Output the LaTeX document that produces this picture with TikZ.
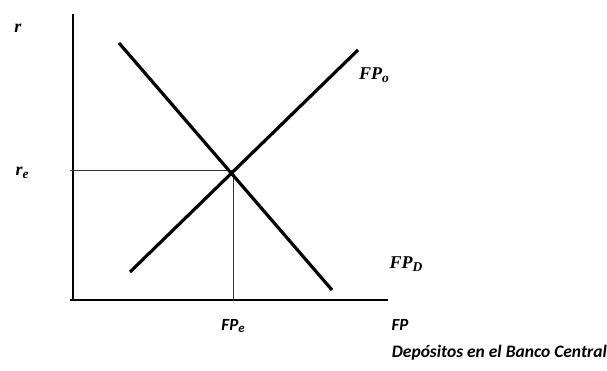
\documentclass[tikz,border=0pt]{standalone}
\usepackage{fontspec}
\setmainfont{Liberation Serif}
\newfontfamily\calib{Carlito}
\newcommand{\lsub}[1]{\raisebox{-0.35ex}{\fontsize{0.75\fsz}{1\fsz}\selectfont #1}}
\newlength{\fsz}
\begin{document}
\begin{tikzpicture}[x=1pt,y=-1pt,
  axis/.style={line width=1.3pt,black},
  guide/.style={line width=0.9pt,black!80},
  curve/.style={line width=3.2pt,black},
  serlab/.style={font=\setlength{\fsz}{18pt}\fontsize{18}{20}\selectfont\bfseries\itshape,inner sep=0pt},
  callab/.style={font=\calib\setlength{\fsz}{17pt}\fontsize{17}{19}\selectfont\bfseries\itshape,inner sep=0pt}]
\useasboundingbox (0,0) rectangle (607,371);
\coordinate (ytop) at (73,14);
\coordinate (orig) at (73,300);
\coordinate (xend) at (388,300);
\coordinate (yleft) at (70,300);
\coordinate (eq) at (233,170);
\coordinate (reax) at (70,170);
\coordinate (feax) at (233,300);
\coordinate (d1) at (119,43);
\coordinate (d2) at (332,290);
\coordinate (s1) at (130,272);
\coordinate (s2) at (358,50);
\draw[axis] (ytop) -- (orig);
\draw[axis] (yleft) -- (xend);
\draw[guide] (reax) -- (eq) -- (feax);
\draw[curve] (d1) -- (d2);
\draw[curve] (s1) -- (s2);
\node[serlab] (r) at (18,28) {r};
\node[serlab] (re) at (22,173) {r\lsub{e}};
\node[serlab] (fpo) at (374,75) {FP\lsub{o}};
\node[serlab] (fpd) at (406,264) {FP\lsub{D}};
\node[callab] (fpe) at (233,326) {FP\lsub{e}};
\node[callab] (fp) at (400,325) {FP};
\node[callab,font=\calib\fontsize{17.5}{19}\selectfont\bfseries\itshape,anchor=east] (dep) at (607,353) {Depósitos en el Banco Central};
\end{tikzpicture}
\end{document}
